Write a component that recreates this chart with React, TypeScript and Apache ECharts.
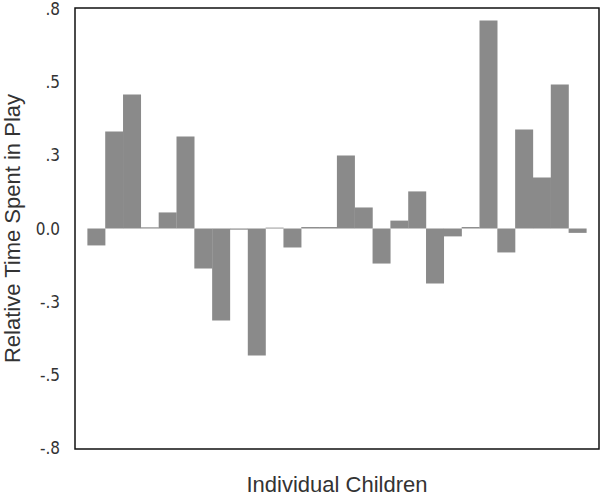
import React, { useEffect, useRef } from "react";
import * as echarts from "echarts";

const children: number[] = Array.from({ length: 28 }, (_, i) => i + 1);
const playTime: number[] = [
  -0.058, 0.332, 0.459, 0.004, 0.055, 0.315, -0.137, -0.315, -0.004, -0.435,
  0.003, -0.065, 0.005, 0.005, 0.25, 0.072, -0.12, 0.027, 0.127, -0.188,
  -0.027, 0.005, 0.712, -0.082, 0.339, 0.175, 0.493, -0.015,
];
const tickValues: number[] = [-0.75, -0.5, -0.25, 0, 0.25, 0.5, 0.75];
const tickLabels: string[] = ["-.8", "-.5", "-.3", "0.0", ".3", ".5", ".8"];

export default function App() {
  const ref = useRef<HTMLDivElement>(null);
  useEffect(() => {
    document.body.style.margin = "0";
    if (!ref.current) return;
    const chart = echarts.init(ref.current, null, { renderer: "svg" });
    chart.setOption({
      animation: false,
      backgroundColor: "#ffffff",
      grid: {
        left: 75,
        top: 8,
        right: 1,
        bottom: 48,
        outerBoundsMode: "none",
        containLabel: false,
        show: true,
        borderColor: "#111",
        borderWidth: 1.5,
        backgroundColor: "transparent",
      },
      xAxis: {
        type: "value",
        min: -0.2,
        max: 29.2,
        axisLine: { show: false },
        axisTick: { show: false },
        axisLabel: { show: false },
        splitLine: { show: false },
        name: "Individual Children",
        nameLocation: "middle",
        nameGap: 24,
        nameTextStyle: {
          fontFamily: "Liberation Sans, Arial, sans-serif",
          fontSize: 22,
          color: "#333",
        },
      },
      yAxis: {
        type: "value",
        min: -0.755,
        max: 0.755,
        interval: 0.25,
        axisLine: { show: false },
        axisTick: { show: false },
        splitLine: { show: false },
        axisLabel: {
          margin: 15,
          fontFamily: "Liberation Sans Narrow, DejaVu Sans Condensed, Liberation Sans, sans-serif",
          fontSize: 17,
          color: "#333",
          customValues: tickValues,
          formatter: (v: number) => {
            const idx = tickValues.findIndex((t) => Math.abs(t - v) < 1e-6);
            return idx >= 0 ? tickLabels[idx] : "";
          },
        },
        name: "Relative Time Spent in Play",
        nameLocation: "middle",
        nameGap: 52,
        nameTextStyle: {
          fontFamily: "Liberation Sans, Arial, sans-serif",
          fontSize: 22,
          color: "#333",
        },
      },
      series: [
        {
          type: "bar",
          data: children.map((c, i) => [c, playTime[i]]),
          barWidth: 18,
          itemStyle: { color: "#8a8a8a" },
        },
      ],
    });
    return () => chart.dispose();
  }, []);
  return <div ref={ref} style={{ width: 600, height: 497 }} />;
}
